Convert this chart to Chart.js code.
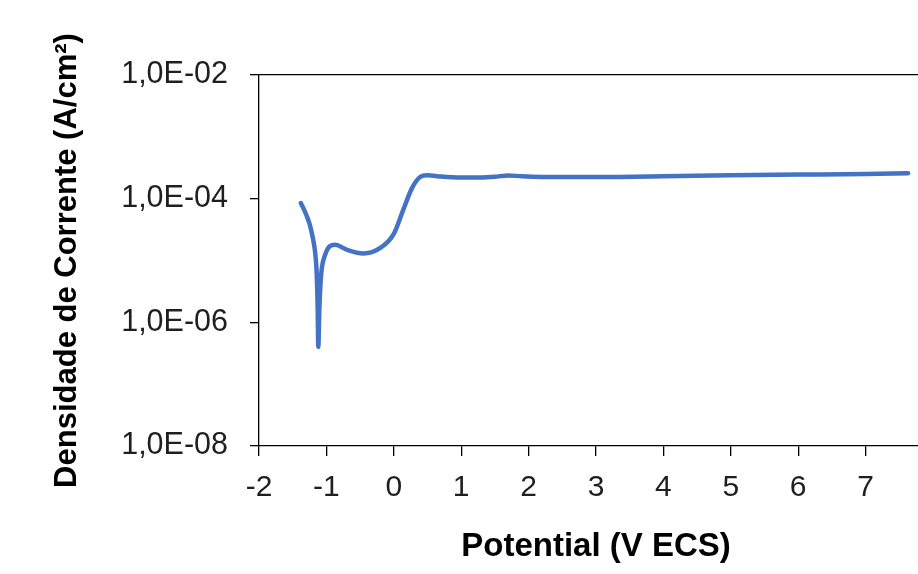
<!DOCTYPE html>
<html>
<head>
<meta charset="utf-8">
<script src="https://cdn.jsdelivr.net/npm/chart.js@4.4.1/dist/chart.umd.min.js"></script>
<style>
  html, body { margin: 0; padding: 0; background: #fff; overflow: hidden; }
  #wrap { width: 918px; height: 574px; overflow: hidden; }
</style>
</head>
<body>
<div id="wrap"><canvas id="chart" width="960" height="574"></canvas></div>
<script>
// Data
const potential = [-1.38, -1.33, -1.29, -1.25, -1.22, -1.19, -1.165, -1.145, -1.13, -1.12, -1.105, -1.09, -1.07, -1.02, -0.95, -0.87,
  -0.70, -0.45, -0.20, 0.0, 0.14, 0.27, 0.39, 0.50, 0.7, 1.0, 1.3, 1.5, 1.7, 1.9, 2.2, 3.0, 4.0, 5.0, 6.0, 7.0, 7.63];
const currentDensity = [8.5e-5, 6.6e-5, 5.2e-5, 3.9e-5, 2.9e-5, 2.0e-5, 1.3e-5, 6.5e-6, 1.8e-6, 4.0e-7, 1.6e-6, 3.8e-6, 7.2e-6, 1.23e-5, 1.7e-5, 1.8e-5,
  1.5e-5, 1.3e-5, 1.6e-5, 2.7e-5, 6.6e-5, 1.48e-4, 2.24e-4, 2.4e-4, 2.28e-4, 2.2e-4, 2.2e-4, 2.26e-4, 2.38e-4, 2.3e-4, 2.25e-4, 2.24e-4, 2.3e-4, 2.4e-4, 2.45e-4, 2.5e-4, 2.57e-4];
const yTickValues = [1e-8, 1e-6, 1e-4, 1e-2];

const FONT = '"Liberation Sans", Arial, sans-serif';

function sciLabel(v) {
  const exp = Math.round(Math.log10(v));
  const s = String(Math.abs(exp)).padStart(2, '0');
  return '1,0E' + (exp < 0 ? '-' : '+') + s;
}

const ctx = document.getElementById('chart').getContext('2d');
new Chart(ctx, {
  type: 'line',
  data: {
    datasets: [{
      data: potential.map((x, i) => ({ x: x, y: currentDensity[i] })),
      borderColor: '#4472C4',
      borderWidth: 4.5,
      borderCapStyle: 'round',
      borderJoinStyle: 'round',
      pointRadius: 0,
      fill: false,
      cubicInterpolationMode: 'monotone'
    }]
  },
  options: {
    responsive: false,
    animation: false,
    devicePixelRatio: 1,
    // plot area is wider than the window: x = 8 sits just past the right edge
    layout: { padding: { left: 0, right: 27, top: 75, bottom: 0 } },
    plugins: { legend: { display: false }, tooltip: { enabled: false } },
    scales: {
      x: {
        type: 'linear',
        min: -2, max: 8,
        afterFit: s => { s.height = 128; },
        grid: { display: true, drawOnChartArea: false, drawTicks: true, tickLength: 10, color: '#000', lineWidth: 1.3 },
        border: { display: true, color: '#000', width: 1.3 },
        ticks: { stepSize: 1, padding: 14, color: '#1f1f1f', font: { family: FONT, size: 30 } },
        title: { display: true, text: 'Potential (V ECS)', color: '#000', padding: { top: 0, bottom: 7 }, font: { family: FONT, size: 33, weight: 'bold' } }
      },
      x2: {
        type: 'linear',
        position: 'top',
        afterFit: s => { s.height = 0; },
        grid: { display: false },
        border: { display: true, color: '#000', width: 1.3 },
        ticks: { display: false }
      },
      y: {
        type: 'logarithmic',
        min: 1e-8, max: 1e-2,
        afterFit: s => { s.width = 259; },
        afterBuildTicks: s => { s.ticks = yTickValues.map(v => ({ value: v })); },
        grid: { display: true, drawOnChartArea: false, drawTicks: true, tickLength: 9, color: '#000', lineWidth: 1.3 },
        border: { display: true, color: '#000', width: 1.3 },
        ticks: { padding: 22, color: '#1f1f1f', font: { family: FONT, size: 30.5 }, callback: v => sciLabel(v) },
        title: { display: true, text: 'Densidade de Corrente (A/cm²)', color: '#000', padding: { top: 49, bottom: 0 }, font: { family: FONT, size: 31, weight: 'bold' } }
      }
    }
  }
});
</script>
</body>
</html>
